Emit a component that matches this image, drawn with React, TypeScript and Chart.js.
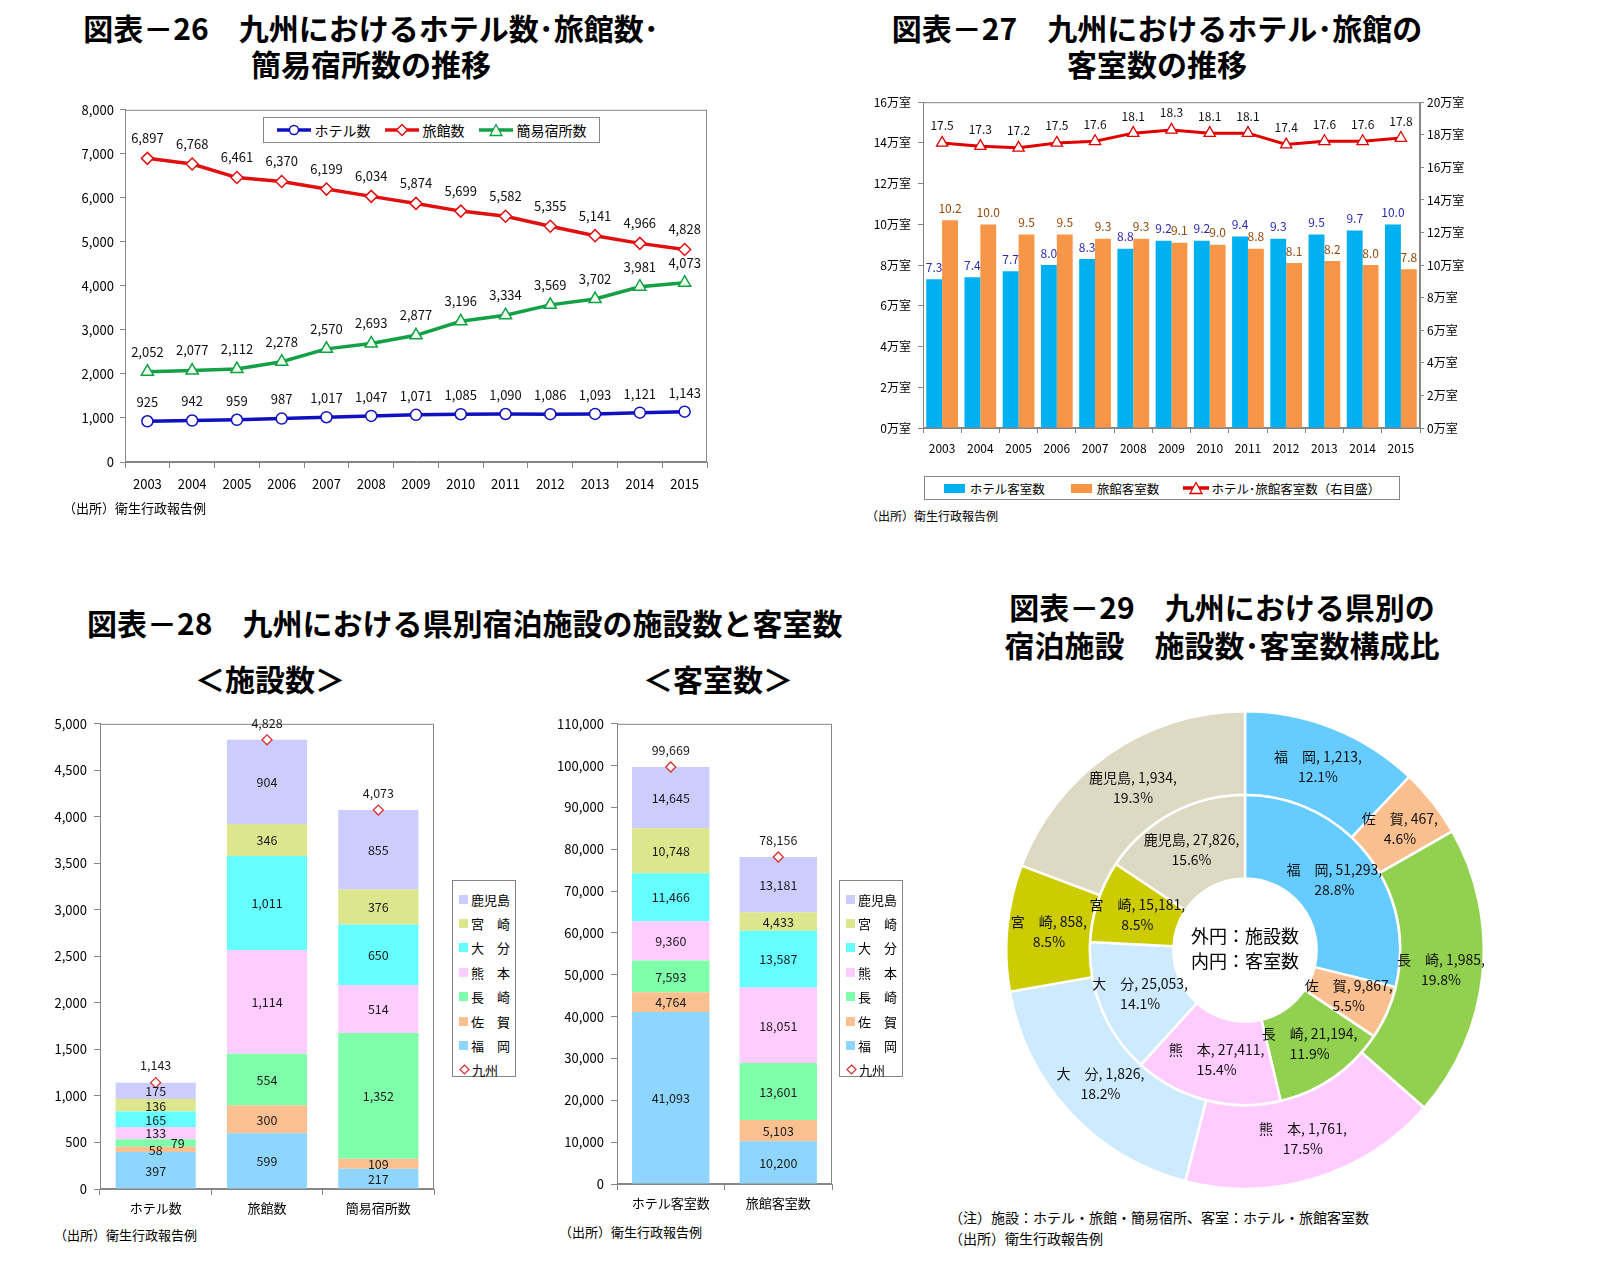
import { useEffect, useRef } from "react";
import { Chart, registerables } from "chart.js";

Chart.register(...registerables);

const FONT = "'Noto Sans CJK JP', 'Noto Sans', sans-serif";
Chart.defaults.font.family = FONT;
Chart.defaults.color = "#000";

// -------------------- 図表-26 --------------------
const years = ["2003","2004","2005","2006","2007","2008","2009","2010","2011","2012","2013","2014","2015"];
const hotelCount = [925, 942, 959, 987, 1017, 1047, 1071, 1085, 1090, 1086, 1093, 1121, 1143];
const ryokanCount = [6897, 6768, 6461, 6370, 6199, 6034, 5874, 5699, 5582, 5355, 5141, 4966, 4828];
const kaniCount = [2052, 2077, 2112, 2278, 2570, 2693, 2877, 3196, 3334, 3569, 3702, 3981, 4073];

// -------------------- 図表-27 (万室) --------------------
const hotelRooms = [7.3, 7.4, 7.7, 8.0, 8.3, 8.8, 9.2, 9.2, 9.4, 9.3, 9.5, 9.7, 10.0];
const ryokanRooms = [10.2, 10.0, 9.5, 9.5, 9.3, 9.3, 9.1, 9.0, 8.8, 8.1, 8.2, 8.0, 7.8];
const totalRooms = [17.5, 17.3, 17.2, 17.5, 17.6, 18.1, 18.3, 18.1, 18.1, 17.4, 17.6, 17.6, 17.8];

// -------------------- 図表-28 --------------------
const prefs = ["福　岡", "佐　賀", "長　崎", "熊　本", "大　分", "宮　崎", "鹿児島"];
const facilityCats = ["ホテル数", "旅館数", "簡易宿所数"];
const hotelByPref = [397, 58, 79, 133, 165, 136, 175];
const ryokanByPref = [599, 300, 554, 1114, 1011, 346, 904];
const kaniByPref = [217, 109, 1352, 514, 650, 376, 855];
const facilityTotals = [1143, 4828, 4073];

const roomCats = ["ホテル客室数", "旅館客室数"];
const hotelRoomsByPref = [41093, 4764, 7593, 9360, 11466, 10748, 14645];
const ryokanRoomsByPref = [10200, 5103, 13601, 18051, 13587, 4433, 13181];
const roomTotals = [99669, 78156];

// -------------------- 図表-29 --------------------
const facilitiesPref = [1213, 467, 1985, 1761, 1826, 858, 1934];
const facilitiesPct = ["12.1", "4.6", "19.8", "17.5", "18.2", "8.5", "19.3"];
const roomsPref = [51293, 9867, 21194, 27411, 25053, 15181, 27826];
const roomsPct = ["28.8", "5.5", "11.9", "15.4", "14.1", "8.5", "15.6"];

const barColors = ["#8fd6ff", "#fac090", "#7fffaa", "#ffccff", "#66ffff", "#dce68c", "#ccccff"];
const donutColors = ["#66ccff", "#fabf8f", "#92d050", "#ffccff", "#cdeafe", "#cccc00", "#ddd9c3"];

const AXIS = "#868686";
const fmt = (n: number) => n.toLocaleString("en-US");

// marco gris alrededor del área de trazado
const framePlugin = {
  id: "frame",
  beforeDatasetsDraw(chart: any) {
    const { ctx, chartArea: a } = chart;
    ctx.save();
    ctx.strokeStyle = AXIS;
    ctx.lineWidth = 1;
    ctx.strokeRect(a.left + 0.5, a.top + 0.5, a.width - 1, a.height - 1);
    ctx.restore();
  },
};

function ChartBox({ left, top, width, height, make }: { left: number; top: number; width: number; height: number; make: () => any }) {
  const ref = useRef<HTMLCanvasElement | null>(null);
  useEffect(() => {
    if (!ref.current) return;
    const c = new Chart(ref.current, make());
    return () => c.destroy();
  }, []);
  return (
    <div style={{ position: "absolute", left, top, width, height }}>
      <canvas ref={ref} />
    </div>
  );
}

// -------------------- configs --------------------
function lineConfig() {
  const pt = (color: string, style: string, r: number, fill = "#fff") => ({
    borderColor: color, backgroundColor: color, borderWidth: 3.5,
    pointStyle: style, pointRadius: r, pointBackgroundColor: fill,
    pointBorderColor: color, pointBorderWidth: 1.5,
  });
  return {
    type: "line",
    data: {
      labels: years,
      datasets: [
        { label: "ホテル数", data: hotelCount, ...pt("#1010c0", "circle", 5.5), off: 19 },
        { label: "旅館数", data: ryokanCount, ...pt("#e01010", "rectRot", 6), off: 20 },
        { label: "簡易宿所数", data: kaniCount, ...pt("#14a046", "triangle", 7, "#eaffea"), off: 20 },
      ],
    },
    options: {
      animation: false, responsive: true, maintainAspectRatio: false,
      layout: { padding: { top: 13, right: 13 } },
      plugins: { legend: { display: false }, tooltip: { enabled: false } },
      scales: {
        x: {
          offset: true,
          grid: { offset: true, drawOnChartArea: false, tickLength: 6, color: AXIS },
          border: { color: AXIS },
          ticks: { font: { size: 13 }, padding: 8, maxRotation: 0 },
          afterFit: (s: any) => { s.height = 44; },
        },
        y: {
          min: 0, max: 8000,
          grid: { drawOnChartArea: false, tickLength: 5, color: AXIS },
          border: { color: AXIS },
          ticks: { stepSize: 1000, font: { size: 13 }, padding: 6, callback: (v: any) => fmt(v) },
          afterFit: (s: any) => { s.width = 65; },
        },
      },
    },
    plugins: [framePlugin, {
      id: "lbl26",
      afterDatasetsDraw(chart: any) {
        const ctx = chart.ctx;
        ctx.save();
        ctx.font = `13px ${FONT}`;
        ctx.fillStyle = "#111";
        ctx.textAlign = "center";
        ctx.textBaseline = "middle";
        chart.data.datasets.forEach((ds: any, i: number) => {
          chart.getDatasetMeta(i).data.forEach((p: any, j: number) => {
            ctx.fillText(fmt(ds.data[j]), p.x, p.y - ds.off);
          });
        });
        ctx.restore();
      },
    }],
  };
}

function roomsConfig() {
  return {
    type: "bar",
    data: {
      labels: years,
      datasets: [
        { type: "line", label: "ホテル･旅館客室数（右目盛）", data: totalRooms, yAxisID: "y2", order: 0,
          borderColor: "#e00000", borderWidth: 3, pointStyle: "triangle", pointRadius: 6.5,
          pointBackgroundColor: "#fff", pointBorderColor: "#e00000", pointBorderWidth: 1.3,
          lblColor: "#111", off: 17 },
        { label: "ホテル客室数", data: hotelRooms, backgroundColor: "#00b0f0", order: 1,
          categoryPercentage: 0.83, barPercentage: 1, lblColor: "#2b2bb0", off: 12 },
        { label: "旅館客室数", data: ryokanRooms, backgroundColor: "#f79646", order: 1,
          categoryPercentage: 0.83, barPercentage: 1, lblColor: "#984807", off: 12 },
      ],
    },
    options: {
      animation: false, responsive: true, maintainAspectRatio: false,
      layout: { padding: { top: 12 } },
      plugins: { legend: { display: false }, tooltip: { enabled: false } },
      scales: {
        x: {
          grid: { offset: true, drawOnChartArea: false, tickLength: 5, color: AXIS },
          border: { color: AXIS },
          ticks: { font: { size: 12 }, padding: 8, maxRotation: 0 },
          afterFit: (s: any) => { s.height = 30; },
        },
        y: {
          min: 0, max: 16,
          grid: { drawOnChartArea: false, tickLength: 5, color: AXIS },
          border: { color: AXIS },
          ticks: { stepSize: 2, font: { size: 12 }, padding: 7, callback: (v: any) => v + "万室" },
          afterFit: (s: any) => { s.width = 73; },
        },
        y2: {
          position: "right", min: 0, max: 20,
          grid: { drawOnChartArea: false, tickLength: 4, color: AXIS },
          border: { color: AXIS },
          ticks: { stepSize: 2, font: { size: 12 }, padding: 3, callback: (v: any) => v + "万室" },
          afterFit: (s: any) => { s.width = 50; },
        },
      },
    },
    plugins: [framePlugin, {
      id: "lbl27",
      afterDatasetsDraw(chart: any) {
        const ctx = chart.ctx;
        ctx.save();
        ctx.font = `12px ${FONT}`;
        ctx.textAlign = "center";
        ctx.textBaseline = "middle";
        chart.data.datasets.forEach((ds: any, i: number) => {
          ctx.fillStyle = ds.lblColor;
          chart.getDatasetMeta(i).data.forEach((el: any, j: number) => {
            ctx.fillText(ds.data[j].toFixed(1), el.x, el.y - ds.off);
          });
        });
        ctx.restore();
      },
    }],
  };
}

function stackedConfig(cats: string[], cols: number[][], totals: number[], max: number, step: number, yWidth: number, padRight: number, catPct: number) {
  const datasets: any[] = prefs.map((p, i) => ({
    label: p, data: cols.map(c => c[i]), backgroundColor: barColors[i],
    categoryPercentage: catPct, barPercentage: 1, order: 1,
  }));
  datasets.push({
    type: "line", label: "九州", data: totals, showLine: false, order: 0,
    pointStyle: "rectRot", pointRadius: 5, pointBackgroundColor: "#fff",
    pointBorderColor: "#d83030", pointBorderWidth: 1.3,
  });
  return {
    type: "bar",
    data: { labels: cats, datasets },
    options: {
      animation: false, responsive: true, maintainAspectRatio: false,
      layout: { padding: { top: 13, right: padRight } },
      plugins: { legend: { display: false }, tooltip: { enabled: false } },
      scales: {
        x: {
          stacked: true,
          grid: { offset: true, drawOnChartArea: false, tickLength: 6, color: AXIS },
          border: { color: AXIS },
          ticks: { font: { size: 13 }, padding: 5, maxRotation: 0 },
          afterFit: (s: any) => { s.height = 30; },
        },
        y: {
          stacked: true, min: 0, max,
          grid: { drawOnChartArea: false, tickLength: 6, color: AXIS },
          border: { color: AXIS },
          ticks: { stepSize: step, font: { size: 13 }, padding: 7, callback: (v: any) => fmt(v) },
          afterFit: (s: any) => { s.width = yWidth; },
        },
      },
    },
    plugins: [framePlugin, {
      id: "lbl28",
      afterDatasetsDraw(chart: any) {
        const ctx = chart.ctx;
        ctx.save();
        ctx.font = `12.5px ${FONT}`;
        ctx.fillStyle = "#1a1a1a";
        ctx.textAlign = "center";
        ctx.textBaseline = "middle";
        const prevSmall: boolean[] = [];
        chart.data.datasets.forEach((ds: any, i: number) => {
          const meta = chart.getDatasetMeta(i);
          meta.data.forEach((el: any, j: number) => {
            if (ds.type === "line") {
              ctx.fillText(fmt(ds.data[j]), el.x, el.y - 17);
              return;
            }
            const h = Math.abs(el.base - el.y);
            const small = h < 10;
            const x = small && prevSmall[j] ? el.x + 22 : el.x;
            prevSmall[j] = small && !prevSmall[j];
            ctx.fillText(fmt(ds.data[j]), x, (el.y + el.base) / 2 + 0.5);
          });
        });
        ctx.restore();
      },
    }],
  };
}

function donutConfig() {
  return {
    type: "doughnut",
    data: {
      labels: prefs,
      datasets: [
        { data: facilitiesPref, pct: facilitiesPct, backgroundColor: donutColors, borderColor: "#fff", borderWidth: 2.5 },
        { data: roomsPref, pct: roomsPct, backgroundColor: donutColors, borderColor: "#fff", borderWidth: 2.5 },
      ],
    },
    options: {
      animation: false, responsive: true, maintainAspectRatio: false, cutout: "30%",
      plugins: { legend: { display: false }, tooltip: { enabled: false } },
    },
    plugins: [{
      id: "lbl29",
      afterDatasetsDraw(chart: any) {
        const ctx = chart.ctx;
        ctx.save();
        ctx.font = `14px ${FONT}`;
        ctx.fillStyle = "#111";
        ctx.textAlign = "center";
        ctx.textBaseline = "middle";
        chart.data.datasets.forEach((ds: any, i: number) => {
          chart.getDatasetMeta(i).data.forEach((arc: any, j: number) => {
            const p = arc.tooltipPosition();
            ctx.fillText(`${prefs[j]}, ${fmt(ds.data[j])},`, p.x, p.y - 10);
            ctx.fillText(`${ds.pct[j]}%`, p.x, p.y + 10);
          });
        });
        ctx.restore();
      },
    }],
  };
}

// -------------------- leyendas HTML --------------------
function LineMark({ color, kind, fill = "#fff", w = 34 }: { color: string; kind: string; fill?: string; w?: number }) {
  const c = w / 2;
  return (
    <svg width={w} height={14} style={{ display: "block" }}>
      <line x1={0} y1={7} x2={w} y2={7} stroke={color} strokeWidth={3.5} />
      {kind === "circle" && <circle cx={c} cy={7} r={4.5} fill={fill} stroke={color} strokeWidth={1.5} />}
      {kind === "diamond" && <polygon points={`${c},1.5 ${c + 5.5},7 ${c},12.5 ${c - 5.5},7`} fill={fill} stroke={color} strokeWidth={1.5} />}
      {kind === "triangle" && <polygon points={`${c},1.5 ${c + 6},12.5 ${c - 6},12.5`} fill={fill} stroke={color} strokeWidth={1.3} />}
    </svg>
  );
}

function PrefLegend({ left, top }: { left: number; top: number }) {
  const order = [6, 5, 4, 3, 2, 1, 0];
  return (
    <div style={{ position: "absolute", left, top, width: 64, height: 197, border: `1px solid ${AXIS}`, boxSizing: "border-box", padding: "6px 0 0 6px", fontSize: 13 }}>
      {order.map(i => (
        <div key={i} style={{ display: "flex", alignItems: "center", height: 24.4 }}>
          <span style={{ width: 9, height: 9, background: barColors[i], marginRight: 3 }} />
          <span>{prefs[i]}</span>
        </div>
      ))}
      <div style={{ display: "flex", alignItems: "center", height: 24.4 }}>
        <svg width={11} height={11} style={{ marginRight: 2 }}>
          <polygon points="5.5,1 10,5.5 5.5,10 1,5.5" fill="#fff" stroke="#d83030" strokeWidth={1.2} />
        </svg>
        <span>九州</span>
      </div>
    </div>
  );
}

const src = "（出所）衛生行政報告例";
const title: React.CSSProperties = { position: "absolute", fontSize: 30, fontWeight: 700, lineHeight: "36px", textAlign: "center", whiteSpace: "nowrap" };

export default function App() {
  return (
    <div style={{ position: "absolute", left: 0, top: 0, width: 1600, height: 1275, background: "#fff", fontFamily: FONT, color: "#000", overflow: "hidden" }}>
      {/* 図表-26 */}
      <div style={{ ...title, left: 71, top: 9, width: 600 }}>図表－26　九州におけるホテル数･旅館数･<br />簡易宿所数の推移</div>
      <ChartBox left={60} top={96} width={660} height={410} make={lineConfig} />
      <div style={{ position: "absolute", left: 263, top: 117, width: 337, height: 26, border: `1px solid ${AXIS}`, boxSizing: "border-box", background: "#fff", display: "flex", alignItems: "center", justifyContent: "center", gap: 4, fontSize: 14 }}>
        <LineMark color="#1010c0" kind="circle" /><span style={{ marginRight: 10 }}>ホテル数</span>
        <LineMark color="#e01010" kind="diamond" /><span style={{ marginRight: 10 }}>旅館数</span>
        <LineMark color="#14a046" kind="triangle" fill="#eaffea" /><span>簡易宿所数</span>
      </div>
      <div style={{ position: "absolute", left: 63, top: 498, fontSize: 13 }}>{src}</div>

      {/* 図表-27 */}
      <div style={{ ...title, left: 857, top: 9, width: 600 }}>図表－27　九州におけるホテル･旅館の<br />客室数の推移</div>
      <ChartBox left={850} top={88} width={620} height={370} make={roomsConfig} />
      <div style={{ position: "absolute", left: 924, top: 476, width: 476, height: 24, border: `1px solid ${AXIS}`, boxSizing: "border-box", display: "flex", alignItems: "center", justifyContent: "center", fontSize: 12.5 }}>
        <span style={{ width: 21, height: 9, background: "#00b0f0", marginRight: 5 }} /><span style={{ marginRight: 26 }}>ホテル客室数</span>
        <span style={{ width: 21, height: 9, background: "#f79646", marginRight: 5 }} /><span style={{ marginRight: 24 }}>旅館客室数</span>
        <LineMark color="#e00000" kind="triangle" w={26} /><span style={{ marginLeft: 2 }}>ホテル･旅館客室数（右目盛）</span>
      </div>
      <div style={{ position: "absolute", left: 866, top: 507, fontSize: 12 }}>{src}</div>

      {/* 図表-28 */}
      <div style={{ ...title, left: 87, top: 604, textAlign: "left" }}>図表－28　九州における県別宿泊施設の施設数と客室数</div>
      <div style={{ ...title, left: 170, top: 660, width: 200 }}>＜施設数＞</div>
      <div style={{ ...title, left: 618, top: 660, width: 200 }}>＜客室数＞</div>
      <ChartBox left={40} top={709} width={410} height={510}
        make={() => stackedConfig(facilityCats, [hotelByPref, ryokanByPref, kaniByPref], facilityTotals, 5000, 500, 60, 16, 0.72)} />
      <PrefLegend left={452} top={880} />
      <div style={{ position: "absolute", left: 54, top: 1225, fontSize: 13 }}>{src}</div>
      <ChartBox left={540} top={709} width={300} height={505}
        make={() => stackedConfig(roomCats, [hotelRoomsByPref, ryokanRoomsByPref], roomTotals, 110000, 10000, 77, 8, 0.72)} />
      <PrefLegend left={839} top={880} />
      <div style={{ position: "absolute", left: 559, top: 1222, fontSize: 13 }}>{src}</div>

      {/* 図表-29 */}
      <div style={{ ...title, left: 922, top: 587, width: 600, lineHeight: "38px" }}>図表－29　九州における県別の<br />宿泊施設　施設数･客室数構成比</div>
      <ChartBox left={1005} top={710} width={480} height={480} make={donutConfig} />
      <div style={{ position: "absolute", left: 1145, top: 923, width: 200, textAlign: "center", fontSize: 18, lineHeight: "25px" }}>外円：施設数<br />内円：客室数</div>
      <div style={{ position: "absolute", left: 949, top: 1207, fontSize: 14, lineHeight: "21px" }}>（注）施設：ホテル・旅館・簡易宿所、客室：ホテル・旅館客室数<br />{src}</div>
    </div>
  );
}
